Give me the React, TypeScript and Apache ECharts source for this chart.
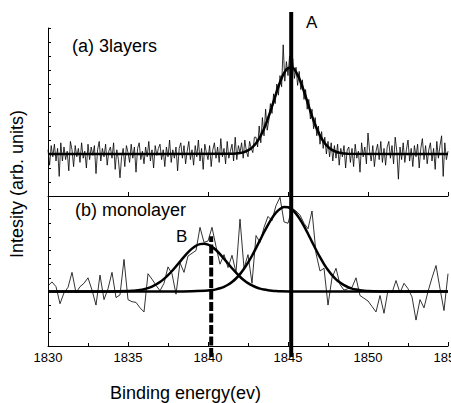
import React, { useEffect, useRef } from "react";
import * as echarts from "echarts";

// ---------- data ----------
const X_TICKS_MIN = 1830;
const X_TICKS_MAX = 1855;
const TOP_STEP = 0.1;
const BOTTOM_STEP = 0.25;

// (a) 3layers raw spectrum, sampled every 0.1 eV from 1830
const TOP_RAW = [
  0.3, -0.8, 0.6, -0.2, 0.7, -0.5, 0.4, -1.6, 0.8, -0.5,
  0.5, -0.4, 0.2, -1.2, 0.9, 0.3, -0.9, 0.6, -0.2, 0.4,
  -0.6, 0.8, -0.3, 0.2, -1.0, 0.7, -0.4, 0.5, -0.1, 0.6,
  -1.4, 0.3, 0.9, -0.5, 0.4, -0.2, 0.7, -0.8, 0.2, 0.5,
  -0.3, 0.8, -1.1, 0.3, -0.4, -1.7, -0.2, 0.4, -0.9, 0.6,
  0.1, -0.6, 0.7, -0.3, 0.5, -1.3, 0.4, 0.8, -0.4, 0.2,
  -0.7, 0.5, -0.2, 0.9, -0.5, 0.3, -1.0, 0.6, -0.1, 0.4,
  0.7, -0.4, 0.3, -0.9, 0.5, -0.2, 1.0, -0.6, 0.3, -0.3,
  0.5, -1.2, 0.4, 0.8, -0.3, 0.6, -0.7, 0.2, 0.9, -0.4,
  0.3, -0.8, 0.6, -0.2, 1.0, -0.5, 0.4, -1.1, 0.7, 0.1,
  -0.4, 0.6, -0.9, 0.3, 0.8, -0.3, 0.5, -0.6, 1.1, -0.2,
  0.4, -0.7, 0.9, -0.3, 0.2, 0.7, -0.5, 1.2, -0.4, 0.6,
  0.1, 0.8, -0.3, 1.0, 0.2, -0.2, 0.9, 0.4, 0.1, 1.2,
  1.2, 0.5, 2.0, 0.8, 2.6, 1.3, 3.2, 1.7, 2.4, 3.6,
  2.9, 4.3, 3.6, 5.0, 4.2, 5.6, 4.8, 7.8, 5.2, 6.6,
  5.6, 7.0, 6.3, 6.8, 5.4, 6.2, 4.9, 5.9, 4.6, 5.3,
  3.9, 4.6, 3.2, 3.9, 2.5, 3.2, 1.8, 2.6, 1.3, 2.0,
  0.7, 1.6, 0.4, 1.2, 0.0, 0.9, -0.2, 0.8, -0.5, 0.6,
  -0.3, 0.7, -0.8, 0.4, -0.2, 0.6, -1.0, 0.3, 0.5, -0.6,
  0.4, -0.9, 0.7, -0.3, 0.2, -1.3, 0.8, -0.2, 0.5, -0.7,
  1.5, 0.2, -0.5, 0.6, -0.9, 0.2, 0.7, -0.4, 0.9, -0.6,
  0.4, -0.8, 0.5, 0.9, -0.3, 0.6, -0.7, 1.2, 0.2, -1.8,
  0.5, -0.4, 0.8, -0.6, 0.3, 1.0, -0.5, 0.4, -0.9, 0.6,
  -0.2, 0.7, -1.0, 0.4, 1.1, -0.4, 0.6, -0.7, 0.3, 0.8,
  -0.5, 0.4, -1.1, 0.9, -0.3, 0.6, 1.3, -1.6, 0.8, -0.4,
  0.2,
];

// (a) fitted peak
const TOP_FIT: [number, number][] = [
  [1830, 0], [1841.5, 0.015], [1841.75, 0.033], [1842, 0.069], [1842.25, 0.137],
  [1842.5, 0.26], [1842.75, 0.455], [1843, 0.76], [1843.25, 1.21], [1843.5, 1.8],
  [1843.75, 2.55], [1844, 3.4], [1844.25, 4.29], [1844.5, 5.12], [1844.75, 5.77],
  [1845, 6.14], [1845.25, 6.17], [1845.5, 5.86], [1845.75, 5.27], [1846, 4.47],
  [1846.25, 3.58], [1846.5, 2.71], [1846.75, 1.94], [1847, 1.31], [1847.25, 0.84],
  [1847.5, 0.51], [1847.75, 0.29], [1848, 0.16], [1848.25, 0.08], [1848.5, 0.04],
  [1848.75, 0.015], [1855, 0],
];

// (b) monolayer raw spectrum, sampled every 0.25 eV from 1830
const BOTTOM_RAW = [
  0.4, 0.7, 0.35, -0.9,
  -0.1, 0.3, 1.4, -0.1,
  0.35, 0.6, 1.0, 0.1,
  -1.0, 1.2, -0.6, 0.2,
  1.4, -0.45, -0.25, 2.35,
  -0.6, -0.75, -0.8, -1.2,
  -1.5, 1.3, 0.9, 0.45,
  0.05, 0.6, 1.8, 1.3,
  -0.2, 2.1, 1.4, 2.6,
  2.8, 3.0, 4.7, 3.6,
  3.7, 4.7, 3.3, 2.0,
  2.7, 1.75, 2.65, 1.4,
  5.3, 1.7, 2.7, 0.6,
  4.1, 3.6, 4.7, 5.5,
  5.2, 6.3, 6.9, 5.1,
  5.0, 6.1, 5.9, 5.6,
  5.0, 4.6, 5.9, 2.8,
  1.5, 1.7, -1.0, 1.0,
  1.7, 0.5, 0.1, 0.2,
  0.3, 1.0, -0.3, -0.5,
  -0.7, -1.1, -1.5, -0.3,
  -1.6, 0.1, -0.1, 0.8,
  -0.1, 0.6, 0.2, -0.4,
  -2.1, -0.6, -1.2, 0.0,
  1.0, 1.9, 0.2, -1.4,
  1.3,
];

// (b) fitted component at A
const BOTTOM_FIT_A: [number, number][] = [
  [1830, 0], [1838, 0.0], [1839, 0.02], [1840, 0.063], [1840.25, 0.099], [1840.5, 0.154],
  [1840.75, 0.233], [1841, 0.343], [1841.25, 0.493], [1841.5, 0.69], [1841.75, 0.95],
  [1842, 1.27], [1842.25, 1.66], [1842.5, 2.11], [1842.75, 2.62], [1843, 3.18],
  [1843.25, 3.76], [1843.5, 4.34], [1843.75, 4.89], [1844, 5.38], [1844.25, 5.78],
  [1844.5, 6.05], [1844.75, 6.19], [1845, 6.17], [1845.25, 6.01], [1845.5, 5.71],
  [1845.75, 5.29], [1846, 4.79], [1846.25, 4.23], [1846.5, 3.64], [1846.75, 3.06],
  [1847, 2.51], [1847.25, 2.01], [1847.5, 1.57], [1847.75, 1.2], [1848, 0.89],
  [1848.25, 0.65], [1848.5, 0.46], [1848.75, 0.32], [1849, 0.21], [1849.25, 0.14],
  [1849.5, 0.09], [1849.75, 0.057], [1850, 0.035], [1851, 0.005], [1855, 0],
];

// (b) fitted component at B
const BOTTOM_FIT_B: [number, number][] = [
  [1830, 0], [1834, 0.005], [1835, 0.026], [1835.25, 0.043], [1835.5, 0.069], [1835.75, 0.109],
  [1836, 0.167], [1836.25, 0.248], [1836.5, 0.36], [1836.75, 0.51], [1837, 0.69],
  [1837.25, 0.92], [1837.5, 1.19], [1837.75, 1.5], [1838, 1.84], [1838.25, 2.19],
  [1838.5, 2.54], [1838.75, 2.86], [1839, 3.14], [1839.25, 3.35], [1839.5, 3.47],
  [1839.75, 3.5], [1840, 3.43], [1840.25, 3.27], [1840.5, 3.04], [1840.75, 2.74],
  [1841, 2.4], [1841.25, 2.05], [1841.5, 1.7], [1841.75, 1.38], [1842, 1.08],
  [1842.25, 0.82], [1842.5, 0.61], [1842.75, 0.44], [1843, 0.31], [1843.25, 0.21],
  [1843.5, 0.14], [1843.75, 0.09], [1844, 0.057], [1844.25, 0.035], [1844.5, 0.021],
  [1845.5, 0.004], [1855, 0],
];

// marker lines (energy, relative height in the overlay 0..1)
const LINE_A: [number, number][] = [[1845.2, 0], [1845.2, 1]];
const LINE_B: [number, number][] = [[1840.2, 0], [1840.2, 0.35]];

const TEXTS = {
  top: "(a) 3layers",
  bottom: "(b) monolayer",
  a: "A",
  b: "B",
  xTitle: "Binding energy(ev)",
  yTitle: "Intesity (arb. units)",
};

const FONT = "'Liberation Sans', Arial, sans-serif";
const NARROW = "'Liberation Sans Narrow', 'Arial Narrow', 'Liberation Sans', sans-serif";

function sample(start: number, step: number, ys: number[]): [number, number][] {
  return ys.map((y, i) => [Math.round((start + i * step) * 100) / 100, y]);
}

export default function App() {
  const ref = useRef<HTMLDivElement>(null);
  useEffect(() => {
    document.body.style.margin = "0";
    if (!ref.current) return;
    const chart = echarts.init(ref.current, undefined, { renderer: "svg" });
    const black = "#000";
    const baseX = {
      type: "value" as const,
      min: X_TICKS_MIN,
      max: X_TICKS_MAX,
      interval: 5,
    };
    const gridBase = { outerBoundsMode: "none", containLabel: false };
    chart.setOption({
      animation: false,
      backgroundColor: "#fff",
      grid: [
        { ...gridBase, left: 48, top: 28, width: 400, height: 168 },
        { ...gridBase, left: 48, top: 196, width: 400, height: 150 },
        { ...gridBase, left: 48, top: 12, width: 400, height: 345 },
      ],
      xAxis: [
        {
          ...baseX,
          gridIndex: 0,
          axisLine: { onZero: false, lineStyle: { color: black, width: 1 } },
          axisTick: { show: true, inside: true, length: 4, lineStyle: { color: black } },
          axisLabel: { show: false },
          splitLine: { show: false },
        },
        {
          ...baseX,
          gridIndex: 1,
          axisLine: { onZero: false, lineStyle: { color: black, width: 1 } },
          axisTick: { show: true, inside: true, length: 4, lineStyle: { color: black } },
          minorTick: { show: true, splitNumber: 2, length: 3, lineStyle: { color: black } },
          axisLabel: {
            show: true,
            color: black,
            fontSize: 13,
            fontFamily: NARROW,
            margin: 5,
            showMaxLabel: true,
            showMinLabel: true,
            formatter: (v: number) => String(v),
          },
          splitLine: { show: false },
        },
        {
          ...baseX,
          gridIndex: 2,
          show: false,
        },
      ],
      yAxis: [
        {
          type: "value",
          gridIndex: 0,
          min: -3,
          max: 9,
          interval: 1,
          axisLine: { show: true, onZero: false, lineStyle: { color: black, width: 1 } },
          axisTick: { show: true, inside: true, length: 3, lineStyle: { color: black } },
          axisLabel: { show: false },
          splitLine: { show: false },
        },
        {
          type: "value",
          gridIndex: 1,
          min: -4,
          max: 7,
          interval: 1,
          axisLine: { show: true, onZero: false, lineStyle: { color: black, width: 1 } },
          axisTick: { show: true, inside: true, length: 3, lineStyle: { color: black } },
          axisLabel: { show: false },
          splitLine: { show: false },
        },
        {
          type: "value",
          gridIndex: 2,
          min: 0,
          max: 1,
          show: false,
        },
      ],
      series: [
        {
          type: "line",
          xAxisIndex: 0,
          yAxisIndex: 0,
          data: sample(X_TICKS_MIN, TOP_STEP, TOP_RAW),
          showSymbol: false,
          lineStyle: { color: black, width: 0.8 },
          z: 2,
        },
        {
          type: "line",
          xAxisIndex: 0,
          yAxisIndex: 0,
          data: TOP_FIT,
          smooth: 0.3,
          showSymbol: false,
          lineStyle: { color: black, width: 2.5 },
          z: 3,
        },
        {
          type: "line",
          xAxisIndex: 1,
          yAxisIndex: 1,
          data: sample(X_TICKS_MIN, BOTTOM_STEP, BOTTOM_RAW),
          showSymbol: false,
          lineStyle: { color: black, width: 0.8 },
          z: 2,
        },
        {
          type: "line",
          xAxisIndex: 1,
          yAxisIndex: 1,
          data: BOTTOM_FIT_A,
          smooth: 0.3,
          showSymbol: false,
          lineStyle: { color: black, width: 2.5 },
          z: 3,
        },
        {
          type: "line",
          xAxisIndex: 1,
          yAxisIndex: 1,
          data: BOTTOM_FIT_B,
          smooth: 0.3,
          showSymbol: false,
          lineStyle: { color: black, width: 2.5 },
          z: 3,
        },
        {
          type: "line",
          xAxisIndex: 2,
          yAxisIndex: 2,
          data: LINE_A,
          showSymbol: false,
          lineStyle: { color: black, width: 4 },
          z: 5,
        },
        {
          type: "line",
          xAxisIndex: 2,
          yAxisIndex: 2,
          data: LINE_B,
          showSymbol: false,
          lineStyle: { color: black, width: 4, type: [9, 2.5] },
          z: 5,
        },
      ],
      graphic: [
        {
          type: "text",
          left: 72,
          top: 37,
          style: { text: TEXTS.top, fontSize: 18, fontFamily: FONT, fill: black },
        },
        {
          type: "text",
          left: 75,
          top: 201,
          style: { text: TEXTS.bottom, fontSize: 18, fontFamily: FONT, fill: black },
        },
        {
          type: "text",
          left: 306,
          top: 14,
          style: { text: TEXTS.a, fontSize: 17, fontFamily: FONT, fill: black },
        },
        {
          type: "text",
          left: 176,
          top: 228,
          style: { text: TEXTS.b, fontSize: 17, fontFamily: FONT, fill: black },
        },
        {
          type: "text",
          left: 110,
          top: 384,
          style: { text: TEXTS.xTitle, fontSize: 18, fontFamily: FONT, fill: black },
        },
        {
          type: "text",
          x: 17,
          y: 184,
          rotation: Math.PI / 2,
          style: {
            text: TEXTS.yTitle,
            fontSize: 18,
            fontFamily: FONT,
            fill: black,
            align: "center",
            verticalAlign: "middle",
          },
        },
      ],
    });
    return () => chart.dispose();
  }, []);
  return <div ref={ref} style={{ width: 451, height: 403 }} />;
}
